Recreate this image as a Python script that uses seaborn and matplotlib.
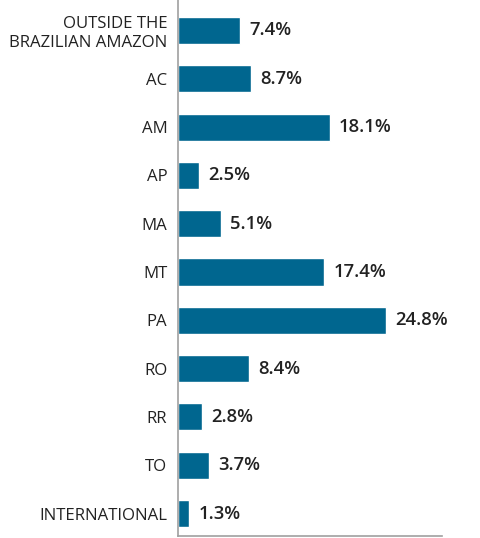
import pandas as pd
import matplotlib.pyplot as plt
import seaborn as sns

categories = ["OUTSIDE THE\nBRAZILIAN AMAZON", "AC", "AM", "AP", "MA", "MT",
              "PA", "RO", "RR", "TO", "INTERNATIONAL"]
shares = [7.4, 8.7, 18.1, 2.5, 5.1, 17.4, 24.8, 8.4, 2.8, 3.7, 1.3]

BAR_COLOR = "#00668f"
TEXT_COLOR = "#222222"

sns.set_style("white")
plt.rcParams["font.family"] = ["Open Sans", "DejaVu Sans"]

df = pd.DataFrame({"region": categories, "share": shares})

fig = plt.figure(figsize=(4.81, 5.38), dpi=100)
ax = fig.add_axes([0.371, 0.0037, 0.548, 0.9963])

sns.barplot(data=df, x="share", y="region", orient="h", color=BAR_COLOR,
            width=0.56, saturation=1, ax=ax)

for i, v in enumerate(shares):
    ax.text(v + 1.1, i, f"{v:.1f}%", va="center", ha="left",
            fontsize=13.3, fontweight="semibold", color=TEXT_COLOR)

ax.set_xlim(0, 31.5)
ax.set_ylim(10.466, -0.631)
ax.set_xlabel("")
ax.set_ylabel("")
ax.set_xticks([])
ax.tick_params(axis="y", length=0, pad=8, labelsize=12.1, labelcolor=TEXT_COLOR)

for side in ["top", "right"]:
    ax.spines[side].set_visible(False)
for side in ["left", "bottom"]:
    ax.spines[side].set_color("#a0a0a0")
    ax.spines[side].set_linewidth(1.2)

fig.savefig("out.png", dpi=100)
plt.close(fig)
